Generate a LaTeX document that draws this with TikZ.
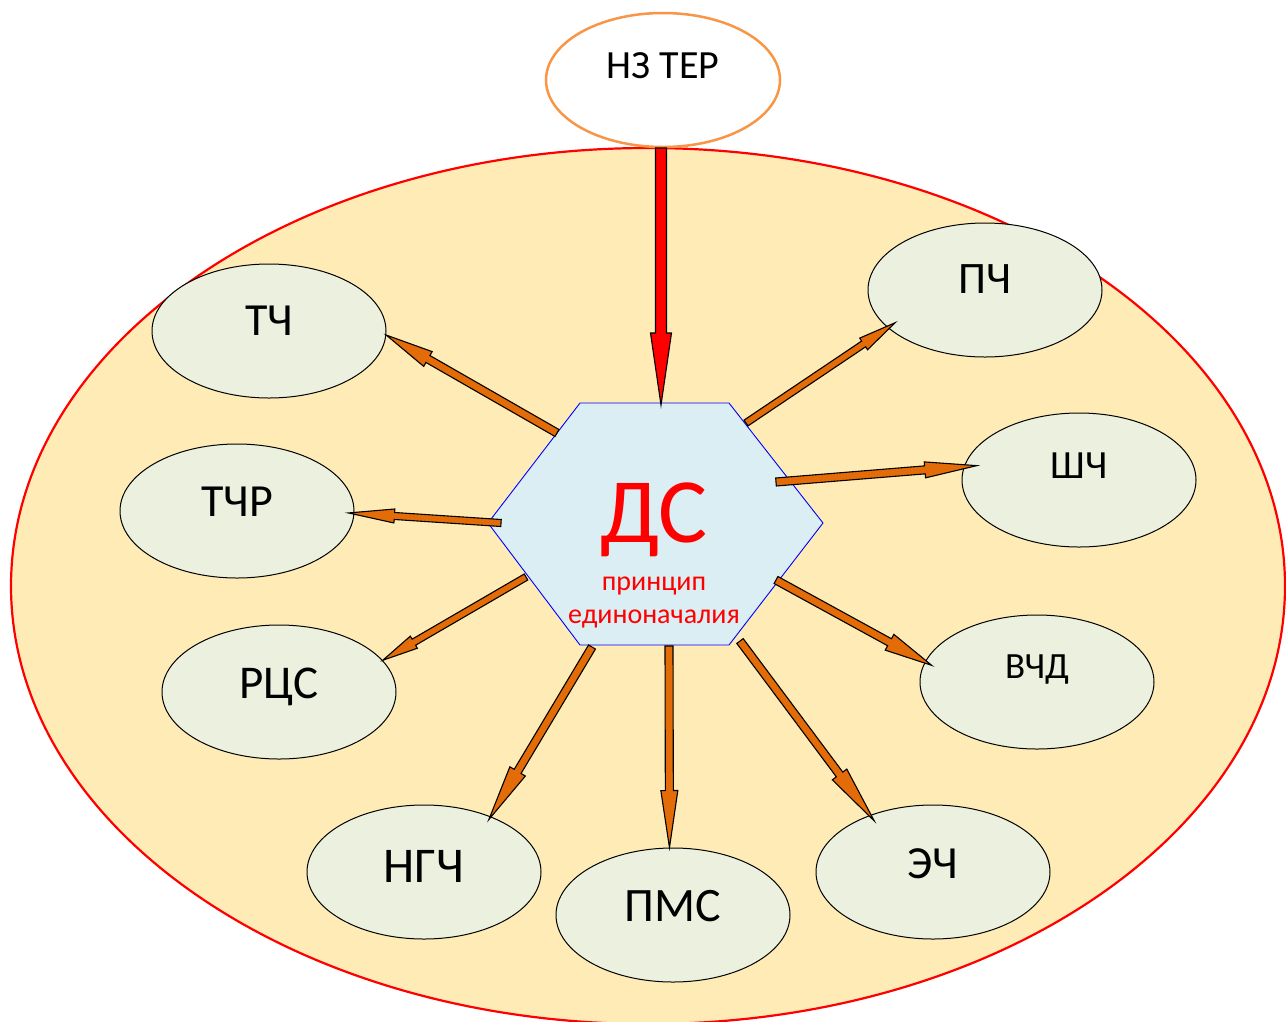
\documentclass[tikz,border=0pt]{standalone}
\usepackage{fontspec}
\setmainfont{Carlito}
\usetikzlibrary{calc,shapes.geometric}

\definecolor{bgfill}{RGB}{255,235,181}
\definecolor{unitfill}{RGB}{235,241,222}
\definecolor{hexfill}{RGB}{218,238,243}
\definecolor{arroworange}{RGB}{227,108,9}
\definecolor{topline}{RGB}{247,150,70}

% Block arrow from #2 to #3: #1 style, #4 shaft width, #5 head width, #6 head length (pt)
\newcommand\blockarrow[6]{%
  \draw[#1] let \p1=(#2), \p2=(#3),
      \n1={atan2(\y2-\y1,\x2-\x1)}, \n2={veclen(\x2-\x1,\y2-\y1)},
      \n3={#4/2}, \n4={#5/2}, \n5={\n2-#6} in
    ($(\p1)+({\n1-90}:{\n3})$)
    -- ($(\p1)+({\n1}:{\n5})+({\n1-90}:{\n3})$)
    -- ($(\p1)+({\n1}:{\n5})+({\n1-90}:{\n4})$)
    -- (\p2)
    -- ($(\p1)+({\n1}:{\n5})+({\n1+90}:{\n4})$)
    -- ($(\p1)+({\n1}:{\n5})+({\n1+90}:{\n3})$)
    -- ($(\p1)+({\n1+90}:{\n3})$) -- cycle;}

\begin{document}
\begin{tikzpicture}[x=1pt,y=1pt,
  zone/.style={ellipse, draw=red, line width=2.2pt, fill=bgfill,
    minimum width=1274pt, minimum height=876pt, inner sep=0pt},
  dept/.style={ellipse, draw=black, line width=1pt, fill=unitfill,
    minimum width=234pt, minimum height=134pt, inner sep=0pt, text depth=#1},
  toptier/.style={ellipse, draw=topline, line width=2.5pt, fill=white,
    minimum width=234pt, minimum height=134pt, inner sep=0pt, text depth=28pt,
    font=\fontsize{40}{44}\selectfont},
  hexagon/.style={draw=blue, line width=0.9pt, fill=hexfill},
  centertext/.style={anchor=base, text=red},
  flow/.style={draw=black, line width=1.1pt, fill=arroworange},
  command/.style={draw=black, line width=1.1pt, fill=red}
]
\useasboundingbox (0,0) rectangle (1286,-1021);
\clip (0,0) rectangle (1286,-1021);

% outer zone
\node[zone] (zone) at (648,-586) {};

% upper level
\node[toptier] (ter) at (663,-80) {НЗ ТЕР};

% subordinate units
\node[dept=20pt, font=\fontsize{46}{50}\selectfont] (tch)  at (269,-331) {ТЧ};
\node[dept=18pt, font=\fontsize{46}{50}\selectfont] (tchr) at (237,-511) {ТЧР};
\node[dept=18pt, font=\fontsize{47}{50}\selectfont] (rcs)  at (279,-692) {РЦС};
\node[dept=12pt, font=\fontsize{50}{54}\selectfont] (ngch) at (424,-872) {НГЧ};
\node[dept=18pt, font=\fontsize{48}{52}\selectfont] (pms)  at (673,-915) {ПМС};
\node[dept=16pt, font=\fontsize{46}{50}\selectfont] (ech)  at (933,-872) {ЭЧ};
\node[dept=30pt, font=\fontsize{37}{40}\selectfont] (vchd) at (1037,-682) {ВЧД};
\node[dept=28pt, font=\fontsize{40}{44}\selectfont] (shch) at (1079,-480) {ШЧ};
\node[dept=22pt, font=\fontsize{45}{48}\selectfont] (pch)  at (985,-290) {ПЧ};

% dispatcher hexagon
\draw[hexagon] (580,-403) coordinate (hexA) -- (729,-403) coordinate (hexB)
  -- (823,-523) coordinate (hexC) -- (729,-645) coordinate (hexD)
  -- (580,-645) coordinate (hexE) -- (488,-523) coordinate (hexF) -- cycle;
\node[centertext, font=\fontsize{92}{92}\selectfont] (ds) at (654,-542) {ДС};
\node[centertext, font=\fontsize{28}{30}\selectfont] (dsline1) at (654,-590) {принцип};
\node[centertext, font=\fontsize{28}{30}\selectfont] (dsline2) at (654,-623) {единоначалия};

% arrow end points on the hexagon
\coordinate (ter-out) at (661,-148);
\coordinate (ds-in)   at (661,-405);
\coordinate (out-tch)  at (557,-433);
\coordinate (out-pch)  at (746,-423);
\coordinate (out-shch) at (776,-482);
\coordinate (out-tchr) at (501,-523);
\coordinate (out-rcs)  at (526,-577);
\coordinate (out-vchd) at (776,-580);
\coordinate (out-ngch) at (592,-647);
\coordinate (out-pms)  at (669,-646);
\coordinate (out-ech)  at (740,-641);

% command line from the upper level
\blockarrow{command}{ter-out}{ds-in}{11}{21}{72}

% orders to the units
\blockarrow{flow}{out-tch}{tch.-2}{8}{17}{48}
\blockarrow{flow}{out-pch}{$(pch.200)!10pt!(pch.center)$}{7}{14}{38}
\blockarrow{flow}{out-shch}{$(shch.172)!12pt!(shch.center)$}{8}{16}{52}
\blockarrow{flow}{out-tchr}{$(tchr.-1.5)!6pt!(tchr.center)$}{7}{14}{46}
\blockarrow{flow}{out-rcs}{rcs.17}{7}{14}{36}
\blockarrow{flow}{out-vchd}{$(vchd.171)!8pt!(vchd.center)$}{8}{18}{48}
\blockarrow{flow}{out-ngch}{$(ngch.39)!4pt!(ngch.center)$}{8}{18}{56}
\blockarrow{flow}{out-pms}{pms.93}{8}{17}{57}
\blockarrow{flow}{out-ech}{$(ech.139)!8pt!(ech.center)$}{8}{18}{58}
\end{tikzpicture}
\end{document}
